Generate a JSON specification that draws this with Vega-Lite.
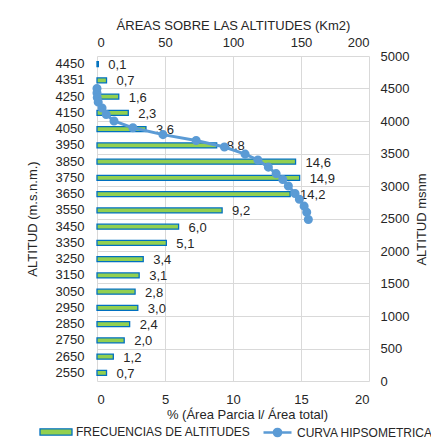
{
  "$schema": "https://vega.github.io/schema/vega-lite/v6.json",
  "width": 272,
  "height": 325,
  "autosize": {"type": "none"},
  "padding": {"left": 97, "top": 56, "right": 62, "bottom": 57},
  "datasets": {
    "bars": [
      {"alt": "4450", "pct": 0.1},
      {"alt": "4351", "pct": 0.7},
      {"alt": "4250", "pct": 1.6},
      {"alt": "4150", "pct": 2.3},
      {"alt": "4050", "pct": 3.6},
      {"alt": "3950", "pct": 8.8},
      {"alt": "3850", "pct": 14.6},
      {"alt": "3750", "pct": 14.9},
      {"alt": "3650", "pct": 14.2},
      {"alt": "3550", "pct": 9.2},
      {"alt": "3450", "pct": 6.0},
      {"alt": "3350", "pct": 5.1},
      {"alt": "3250", "pct": 3.4},
      {"alt": "3150", "pct": 3.1},
      {"alt": "3050", "pct": 2.8},
      {"alt": "2950", "pct": 3.0},
      {"alt": "2850", "pct": 2.4},
      {"alt": "2750", "pct": 2.0},
      {"alt": "2650", "pct": 1.2},
      {"alt": "2550", "pct": 0.7}
    ],
    "curve": [
      {"area": 0, "msnm": 4500},
      {"area": 0, "msnm": 4430},
      {"area": 0.2, "msnm": 4360},
      {"area": 0.9, "msnm": 4290},
      {"area": 3.7, "msnm": 4200},
      {"area": 6.8, "msnm": 4100},
      {"area": 12.5, "msnm": 4000},
      {"area": 26.4, "msnm": 3895},
      {"area": 48.5, "msnm": 3790},
      {"area": 72.9, "msnm": 3700},
      {"area": 93.7, "msnm": 3600},
      {"area": 108.9, "msnm": 3490},
      {"area": 118.3, "msnm": 3400},
      {"area": 126.0, "msnm": 3290},
      {"area": 131.7, "msnm": 3190},
      {"area": 136.6, "msnm": 3100},
      {"area": 140.7, "msnm": 3000},
      {"area": 145.6, "msnm": 2885},
      {"area": 148.8, "msnm": 2795},
      {"area": 152.3, "msnm": 2690},
      {"area": 154.2, "msnm": 2595},
      {"area": 155.4, "msnm": 2485}
    ]
  },
  "config": {
    "font": "Liberation Sans",
    "locale": {"number": {"decimal": ",", "thousands": ".", "grouping": [3], "currency": ["", ""]}},
    "view": {"stroke": null},
    "axis": {
      "labelFontSize": 13,
      "titleFontSize": 13,
      "titleFontWeight": "normal",
      "labelColor": "#262626",
      "titleColor": "#262626",
      "tickSize": 0,
      "domain": false
    },
    "legend": {
      "labelFontSize": 12,
      "labelColor": "#262626",
      "labelLimit": 300,
      "orient": "none",
      "direction": "horizontal"
    }
  },
  "resolve": {
    "scale": {"x": "independent", "y": "independent"},
    "axis": {"x": "independent", "y": "independent"}
  },
  "layer": [
    {
      "data": {"name": "bars"},
      "encoding": {
        "y": {
          "field": "alt",
          "type": "nominal",
          "sort": null,
          "scale": {"paddingInner": 0, "paddingOuter": 0},
          "axis": {"orient": "left", "title": "ALTITUD (m.s.n.m.)", "labelPadding": 13, "titlePadding": 16, "grid": false}
        },
        "x": {
          "field": "pct",
          "type": "quantitative",
          "scale": {"domain": [0, 20]},
          "axis": {"orient": "bottom", "values": [0, 5, 10, 15, 20], "grid": true, "zindex": 0, "gridColor": "#D9D9D9", "gridOpacity": 1, "gridWidth": 1, "title": "% (Área Parcia l/ Área total)", "labelPadding": 12, "titlePadding": 2, "titleX": 150}
        }
      },
      "layer": [
        {
          "mark": {"type": "bar", "size": 5, "stroke": "#0070C0", "strokeWidth": 1.3},
          "encoding": {
            "fill": {
              "datum": "FRECUENCIAS DE ALTITUDES",
              "type": "nominal",
              "scale": {"range": ["#92D050"]},
              "legend": {
                "title": null,
                "orient": "none",
                "legendX": -50,
                "legendY": 367,
                "symbolType": "M-2,-0.4H2V0.4H-2Z",
                "symbolSize": 256,
                "symbolStrokeColor": "#0070C0",
                "symbolStrokeWidth": 1.3,
                "labelOffset": 11
              }
            }
          }
        },
        {
          "mark": {"type": "text", "align": "left", "baseline": "middle", "dx": 10, "dy": 1, "fontSize": 13, "color": "#262626"},
          "encoding": {"text": {"field": "pct", "type": "quantitative", "format": ".1f"}}
        }
      ]
    },
    {
      "data": {"name": "curve"},
      "mark": {"type": "line", "color": "#5B9BD5", "strokeWidth": 3, "point": {"filled": true, "size": 50, "color": "#5B9BD5"}},
      "encoding": {
        "x": {
          "field": "area",
          "type": "quantitative",
          "scale": {"domain": [0, 200]},
          "axis": {"orient": "top", "values": [0, 50, 100, 150, 200], "grid": false, "title": "ÁREAS SOBRE LAS ALTITUDES (Km2)", "labelPadding": 7, "titlePadding": 4}
        },
        "y": {
          "field": "msnm",
          "type": "quantitative",
          "scale": {"domain": [0, 5000]},
          "axis": {"orient": "right", "values": [0, 500, 1000, 1500, 2000, 2500, 3000, 3500, 4000, 4500, 5000], "format": "d", "grid": true, "zindex": 0, "gridColor": "#D9D9D9", "gridOpacity": 1, "gridWidth": 1, "title": "ALTITUD msnm", "titleAngle": 270, "titleBaseline": "middle", "titleAlign": "center", "titleX": 52, "titleY": 163, "labelPadding": 11}
        },
        "order": {"field": "msnm", "sort": "descending"},
        "stroke": {
          "datum": "CURVA HIPSOMETRICA",
          "type": "nominal",
          "scale": {"range": ["#5B9BD5"]},
          "legend": {
            "title": null,
            "orient": "none",
            "legendX": 171,
            "legendY": 367,
            "symbolType": "M-1.75,0H1.75M0.45,0A0.45,0.45 0 1,1 -0.45,0A0.45,0.45 0 1,1 0.45,0Z",
            "symbolSize": 256,
            "symbolStrokeColor": "#5B9BD5",
            "symbolFillColor": "#5B9BD5",
            "symbolStrokeWidth": 2.5,
            "labelOffset": 10
          }
        }
      }
    }
  ]
}
